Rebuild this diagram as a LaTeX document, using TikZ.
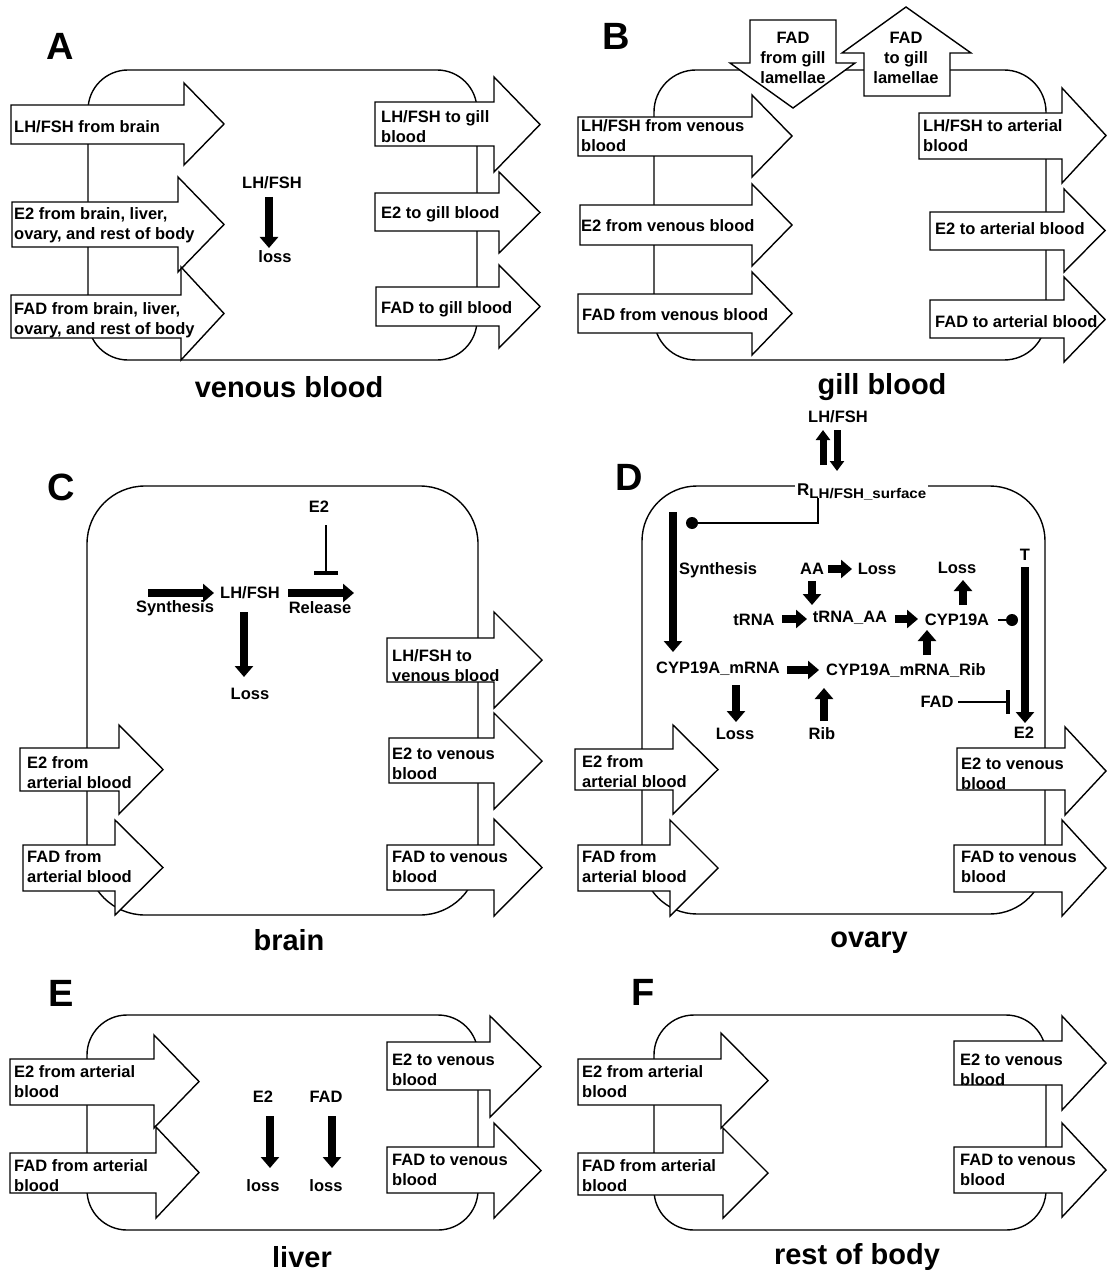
\documentclass[tikz,border=0pt]{standalone}
\usepackage{fontspec}
\usepackage{graphicx}
\setmainfont{Liberation Sans}
\usetikzlibrary{arrows.meta,calc}
% block arrow pointing right: left x, head-base x, tip x, shaft top, shaft bottom, head top, head bottom
\newcommand\blockR[7]{\draw[blk] (#1,#4) -- (#2,#4) -- (#2,#6) -- (#3,{(#6+#7)/2}) -- (#2,#7) -- (#2,#5) -- (#1,#5) -- cycle;}
\begin{document}
\begin{tikzpicture}[x=1pt,y=-1pt,
  box/.style={draw,line width=1.4pt},
  blk/.style={draw,fill=white,line width=1.4pt,line join=miter},
  lbl/.style={font=\bfseries\fontsize{16.5}{20}\selectfont,align=left,inner sep=0pt},
  clbl/.style={lbl,align=center},
  ttl/.style={font=\bfseries\fontsize{29}{34}\selectfont,inner sep=0pt},
  plet/.style={font=\bfseries\fontsize{38}{40}\selectfont,inner sep=0pt},
  fat/.style={line width=7.5pt,-{Triangle[width=18pt,length=11pt]}},
  fatS/.style={line width=7pt,-{Triangle[width=14pt,length=10pt]}},
  inh/.style={line width=2.6pt,-{Bar[width=24pt,line width=4pt]}},
  conn/.style={line width=2.6pt}]
\useasboundingbox (0,0) rectangle (1108,1273);
\fill[white] (0,0) rectangle (1108,1273);

%================ Panel A =================
\node[plet] (pA) at (60,46) {A};
\draw[box,rounded corners=40pt] (88,70) rectangle (477,360);
\blockR{11}{184}{224}{105}{144}{83}{165}
\blockR{12}{178}{224}{202}{247}{177}{272}
\blockR{11}{181}{224}{295}{338}{267}{360}
\blockR{375}{494}{540}{102}{146}{77}{172}
\blockR{375}{499}{540}{193}{231}{172}{253}
\blockR{376}{499}{540}{287}{326}{265}{348}
\node[lbl,anchor=west] (aL1) at (14,127) {LH/FSH from brain};
\node[lbl,anchor=west] (aL2) at (14,225) {E2 from brain, liver,\\ovary, and rest of body};
\node[lbl,anchor=west] (aL3) at (14,320) {FAD from brain, liver,\\ovary, and rest of body};
\node[lbl,anchor=west] (aR1) at (381,127) {LH/FSH to gill\\blood};
\node[lbl,anchor=west] (aR2) at (381,214) {E2 to gill blood};
\node[lbl,anchor=west] (aR3) at (381,309) {FAD to gill blood};
\node[lbl] (lhA) at (272,183) {LH/FSH};
\node[lbl] (lossA) at (275,257) {loss};
\draw[fat] ($(lhA)+(-3,14)$) -- ++(0,51);
\node[ttl] (tA) at (289,387) {venous blood};

%================ Panel B =================
\node[plet] (pB) at (616,36) {B};
\draw[box,rounded corners=42pt] (654,70) rectangle (1046,360);
\draw[blk] (750,20) -- (836,20) -- (836,63) -- (855,63) -- (793,108) -- (730,63) -- (750,63) -- cycle;
\draw[blk] (864,96) -- (950,96) -- (950,53) -- (971,53) -- (906,7) -- (842,53) -- (864,53) -- cycle;
\node[clbl] (bD) at (793,58) {FAD\\from gill\\lamellae};
\node[clbl] (bU) at (906,58) {FAD\\to gill\\lamellae};
\blockR{578}{752}{792}{117}{156}{95}{177}
\blockR{580}{752}{792}{205}{245}{184}{266}
\blockR{578}{752}{792}{294}{333}{272}{355}
\blockR{919}{1062}{1106}{113}{159}{88}{183}
\blockR{930}{1064}{1105}{212}{250}{189}{272}
\blockR{930}{1064}{1105}{300}{338}{277}{362}
\node[lbl,anchor=west] (bL1) at (581,136) {LH/FSH from venous\\blood};
\node[lbl,anchor=west] (bL2) at (581,226) {E2 from venous blood};
\node[lbl,anchor=west] (bL3) at (582,315) {FAD from venous blood};
\node[lbl,anchor=west] (bR1) at (923,136) {LH/FSH to arterial\\blood};
\node[lbl,anchor=west] (bR2) at (935,229) {E2 to arterial blood};
\node[lbl,anchor=west] (bR3) at (935,322) {FAD to arterial blood};
\node[ttl] (tB) at (882,387) {gill blood};

%================ Panel C =================
\node[plet] (pC) at (61,487) {C};
\draw[box,rounded corners=58pt] (87,486) rectangle (478,915);
\blockR{387}{494}{542}{638}{682}{612}{708}
\blockR{389}{494}{542}{738}{783}{713}{809}
\blockR{387}{494}{542}{845}{890}{819}{916}
\blockR{20}{119}{163}{748}{791}{725}{814}
\blockR{23}{115}{163}{845}{891}{820}{915}
\node[lbl,anchor=west] (cR1) at (392,666) {LH/FSH to\\venous blood};
\node[lbl,anchor=west] (cR2) at (392,764) {E2 to venous\\blood};
\node[lbl,anchor=west] (cR3) at (392,867) {FAD to venous\\blood};
\node[lbl,anchor=west] (cL1) at (27,773) {E2 from\\arterial blood};
\node[lbl,anchor=west] (cL2) at (27,867) {FAD from\\arterial blood};
\node[lbl] (e2C) at (319,507) {E2};
\node[lbl] (lhC) at (250,593) {LH/FSH};
\node[lbl] (synC) at (175,608) {Synthesis};
\node[lbl] (relC) at (320,608) {Release};
\node[lbl] (lossC) at (250,694) {Loss};
\draw[fat] ($(lhC)+(-102,0)$) -- ++(66,0);
\draw[fat] ($(lhC)+(38,0)$) -- ++(66,0);
\draw[fat] ($(lhC)+(-6,19)$) -- ++(0,65);
\draw[inh] ($(e2C)+(7,18)$) -- ++(0,50);
\node[ttl] (tC) at (289,940) {brain};

%================ Panel D =================
\node[plet] (pD) at (629,477) {D};
\draw[box,rounded corners=55pt] (642,486) rectangle (1045,914);
\node[lbl,anchor=base west,fill=white,inner sep=2pt] (rsurf) at (795,495)
  {{\fontsize{17}{17}\selectfont R}\raisebox{-3pt}{\fontsize{14}{14}\selectfont\scalebox{1.08}[1]{LH/FSH\_surface}}};
\node[lbl] (lhD) at (838,417) {LH/FSH};
\draw[fatS] ($(lhD)+(-15,48)$) -- ++(0,-35);
\draw[fatS] ($(lhD)+(-1,13)$) -- ++(0,41);
\draw[conn] ($(rsurf.base west)+(23,3)$) |- ++(-126,25);
\fill ($(rsurf.base west)+(-103,28)$) circle (6);
\node[lbl,anchor=west] (synD) at (679,570) {Synthesis};
\draw[fat] ($(synD.west)+(-6,-58)$) -- ++(0,140);
\node[lbl] (mrna) at (718,669) {CYP19A\_mRNA};
\node[lbl] (ribc) at (906,671) {CYP19A\_mRNA\_Rib};
\node[lbl] (lossD1) at (735,734) {Loss};
\node[lbl] (rib) at (822,734) {Rib};
\node[lbl] (aa) at (812,569) {AA};
\node[lbl] (lossD2) at (877,569) {Loss};
\node[lbl] (trna) at (754,620) {tRNA};
\node[lbl] (trnaaa) at (850,618) {tRNA\_AA};
\node[lbl] (cyp) at (957,620) {CYP19A};
\node[lbl] (lossD3) at (957,568) {Loss};
\node[lbl] (tD) at (1025,555) {T};
\node[lbl] (e2D) at (1024,733) {E2};
\node[lbl] (fadD) at (937,702) {FAD};
\draw[fat] ($(mrna)+(69,1)$) -- ++(32,0);
\draw[fat] ($(mrna)+(18,16)$) -- ++(0,37);
\draw[fat] ($(rib)+(2,-13)$) -- ++(0,-33);
\draw[fat] ($(aa)+(16,0)$) -- ++(24,0);
\draw[fat] ($(aa)+(0,12)$) -- ++(0,24);
\draw[fat] ($(trna)+(28,-1)$) -- ++(25,0);
\draw[fat] ($(trnaaa)+(45,1)$) -- ++(23,0);
\draw[fat] ($(cyp)+(6,-15)$) -- ++(0,-25);
\draw[fat] ($(ribc)+(21,-16)$) -- ++(0,-25);
\draw[conn] ($(cyp)+(41,0)$) -- ++(14,0);
\fill ($(cyp)+(55,0)$) circle (6);
\draw[fat] ($(tD)+(0,12)$) -- ++(0,156);
\draw[inh] ($(fadD)+(21,0)$) -- ++(52,0);
\blockR{575}{673}{718}{749}{790}{725}{814}
\blockR{578}{670}{718}{845}{891}{820}{916}
\blockR{957}{1065}{1106}{748}{790}{727}{815}
\blockR{954}{1062}{1106}{845}{892}{820}{916}
\node[lbl,anchor=west] (dL1) at (582,772) {E2 from\\arterial blood};
\node[lbl,anchor=west] (dL2) at (582,867) {FAD from\\arterial blood};
\node[lbl,anchor=west] (dR1) at (961,774) {E2 to venous\\blood};
\node[lbl,anchor=west] (dR2) at (961,867) {FAD to venous\\blood};
\node[ttl] (tD2) at (869,943) {ovary};

%================ Panel E =================
\node[plet] (pE) at (61,993) {E};
\draw[box,rounded corners=40pt] (87,1015) rectangle (478,1230);
\blockR{10}{154}{199}{1059}{1105}{1035}{1128}
\blockR{10}{156}{199}{1153}{1193}{1127}{1218}
\blockR{387}{490}{541}{1042}{1090}{1016}{1117}
\blockR{387}{494}{541}{1147}{1193}{1123}{1218}
\node[lbl,anchor=west] (eL1) at (14,1082) {E2 from arterial\\blood};
\node[lbl,anchor=west] (eL2) at (14,1176) {FAD from arterial\\blood};
\node[lbl,anchor=west] (eR1) at (392,1070) {E2 to venous\\blood};
\node[lbl,anchor=west] (eR2) at (392,1170) {FAD to venous\\blood};
\node[lbl] (e2E) at (263,1097) {E2};
\node[lbl] (fadE) at (326,1097) {FAD};
\node[lbl] (lossE1) at (263,1186) {loss};
\node[lbl] (lossE2) at (326,1186) {loss};
\draw[fat] ($(e2E)+(7,19)$) -- ++(0,52);
\draw[fat] ($(fadE)+(6,19)$) -- ++(0,52);
\node[ttl] (tE) at (302,1257) {liver};

%================ Panel F =================
\node[plet] (pF) at (643,992) {F};
\draw[box,rounded corners=40pt] (654,1015) rectangle (1046,1230);
\blockR{578}{721}{768}{1059}{1105}{1033}{1128}
\blockR{578}{723}{768}{1153}{1195}{1128}{1218}
\blockR{954}{1062}{1106}{1041}{1085}{1016}{1110}
\blockR{954}{1062}{1106}{1147}{1193}{1123}{1217}
\node[lbl,anchor=west] (fL1) at (582,1082) {E2 from arterial\\blood};
\node[lbl,anchor=west] (fL2) at (582,1176) {FAD from arterial\\blood};
\node[lbl,anchor=west] (fR1) at (960,1070) {E2 to venous\\blood};
\node[lbl,anchor=west] (fR2) at (960,1170) {FAD to venous\\blood};
\node[ttl] (tF) at (857,1257) {rest of body};
\end{tikzpicture}
\end{document}
